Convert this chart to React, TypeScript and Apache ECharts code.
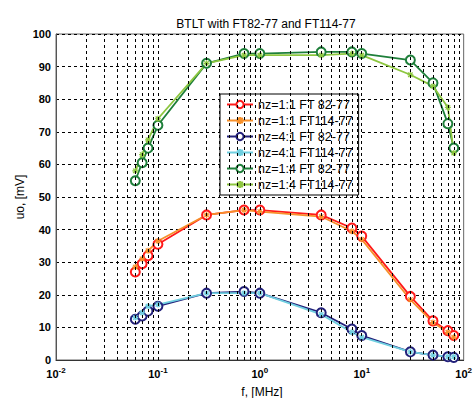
import React, { useEffect, useRef } from "react";
import * as echarts from "echarts";

const freq = [0.06, 0.07, 0.08, 0.1, 0.3, 0.7, 1, 4, 8, 10, 30, 50, 70, 80];
const s11_82 = [27, 29.5, 32, 35.5, 44.5, 46, 46, 44.5, 40.5, 38, 19.5, 12, 9, 7.5];
const s11_114 = [28.5, 31, 33.5, 36.5, 44.5, 46, 45.5, 44, 39.5, 37, 18.5, 11.5, 8.5, 7];
const s41_82 = [12.5, 13.5, 15, 16.5, 20.5, 21, 20.5, 14.5, 9.5, 7.5, 2.5, 1.5, 1, 0.8];
const s41_114 = [13, 14.5, 16.5, 17, 20.5, 20.5, 20.5, 14, 8.5, 7, 2.5, 1.5, 1, 1];
const s14_82 = [55, 60.5, 65, 72, 91, 94, 94, 94.5, 94.5, 94, 92, 85, 72.5, 65];
const s14_114 = [58, 63, 67.5, 74, 91, 93.5, 93.5, 93.5, 94, 93.5, 87.5, 84, 77.5, 63.5];
const seriesNames = [
  "nz=1:1 FT 82-77",
  "nz=1:1 FT114-77",
  "nz=4:1 FT 82-77",
  "nz=4:1 FT114-77",
  "nz=1:4 FT 82-77",
  "nz=1:4 FT114-77",
];
const minorX = [
  0.02, 0.03, 0.04, 0.05, 0.06, 0.07, 0.08, 0.09,
  0.2, 0.3, 0.4, 0.5, 0.6, 0.7, 0.8, 0.9,
  2, 3, 4, 5, 6, 7, 8, 9,
  20, 30, 40, 50, 60, 70, 80, 90,
];
const majorX = [0.1, 1, 10];
const xAxisTitle = "f, [MHz]";
const yAxisTitle = "uo, [mV]";

const colors = ["#ff1a1a", "#f7902a", "#22207a", "#6fcfe0", "#1e7f3a", "#8dc63f"];
const CROSS = "path://M0,4L8,4M4,0L4,8M1,1L7,7M7,1L1,7";

export default function App() {
  const ref = useRef<HTMLDivElement>(null);
  useEffect(() => {
    if (!ref.current) return;
    const chart = echarts.init(ref.current, null, { renderer: "svg" });
    const all = [s11_82, s11_114, s41_82, s41_114, s14_82, s14_114];
    const series: any[] = all.map((vals, i) => {
      const isCircle = i % 2 === 0;
      return {
        name: seriesNames[i],
        type: "line",
        data: freq.map((f, j) => [f, vals[j]]),
        symbol: isCircle ? "emptyCircle" : CROSS,
        symbolSize: isCircle ? 9 : 6,
        showAllSymbol: true,
        lineStyle: { color: colors[i], width: 1.8 },
        itemStyle: isCircle
          ? { color: colors[i], borderWidth: 1.6 }
          : { color: colors[i], borderColor: colors[i], borderWidth: 1.2 },
        z: 3,
      };
    });
    series.unshift({
      name: "grid",
      type: "line",
      data: [],
      silent: true,
      z: 1,
      markLine: {
        silent: true,
        symbol: "none",
        label: { show: false },
        animation: false,
        lineStyle: { type: [3, 3], color: "#000", width: 1 },
        data: [...minorX, ...majorX].map((v) => ({ xAxis: v })),
      },
    });
    const expLabel: Record<string, string> = {
      "0.01": "{b|10}{s|-2}",
      "0.1": "{b|10}{s|-1}",
      "1": "{b|10}{s|0}",
      "10": "{b|10}{s|1}",
      "100": "{b|10}{s|2}",
    };
    chart.setOption({
      animation: false,
      backgroundColor: "#fff",
      title: {
        text: "BTLT with FT82-77 and FT114-77",
        left: 261,
        textAlign: "center",
        top: 13,
        textStyle: { fontFamily: "Liberation Sans", fontSize: 12, fontWeight: "normal", color: "#000" },
      },
      graphic: [
        {
          type: "text",
          x: 262,
          y: 392,
          style: {
            text: xAxisTitle,
            fill: "#000",
            font: "12px 'Liberation Sans'",
            textAlign: "center",
            textVerticalAlign: "middle",
          },
        },
        {
          type: "text",
          x: 20,
          y: 197,
          rotation: Math.PI / 2,
          style: {
            text: yAxisTitle,
            fill: "#000",
            font: "12px 'Liberation Sans'",
            textAlign: "center",
            textVerticalAlign: "middle",
          },
        },
      ],
      grid: {
        left: 56,
        right: 4,
        top: 34,
        bottom: 38,
        show: true,
        borderColor: "#666",
        borderWidth: 1,
        backgroundColor: "transparent",
      },
      legend: {
        data: seriesNames,
        orient: "vertical",
        left: 220,
        top: 94,
        backgroundColor: "#fff",
        borderColor: "#000",
        borderWidth: 1,
        borderRadius: 0,
        padding: [4, 6, 4, 6],
        itemGap: 3,
        itemWidth: 26,
        itemHeight: 9,
        textStyle: { fontFamily: "Liberation Sans", fontSize: 12.5, color: "#000" },
      },
      xAxis: {
        type: "log",
        logBase: 10,
        min: 0.01,
        max: 100,
        axisLine: { show: true, lineStyle: { color: "#333", width: 1 } },
        axisTick: { show: false },
        splitLine: { show: false },
        axisLabel: {
          margin: 6,
          color: "#000",
          formatter: (v: number) => expLabel[String(v)] ?? "",
          rich: {
            b: { fontFamily: "Liberation Sans", fontSize: 11, fontWeight: "bold", color: "#000" },
            s: { fontFamily: "Liberation Sans", fontSize: 8, fontWeight: "bold", color: "#000", verticalAlign: "top", padding: [0, 0, 8, 0] },
          },
        },
      },
      yAxis: {
        type: "value",
        min: 0,
        max: 100,
        interval: 10,
        axisLine: { show: true, lineStyle: { color: "#555", width: 1 } },
        axisTick: { show: false },
        axisLabel: { fontFamily: "Liberation Sans", fontSize: 11, fontWeight: "bold", color: "#000", margin: 5 },
        splitLine: { show: true, lineStyle: { type: [3, 3], color: "#000", width: 1 } },
      },
      series,
    });
    return () => chart.dispose();
  }, []);
  return <div ref={ref} style={{ width: 475, height: 398, position: "absolute", left: 0, top: 0 }} />;
}
